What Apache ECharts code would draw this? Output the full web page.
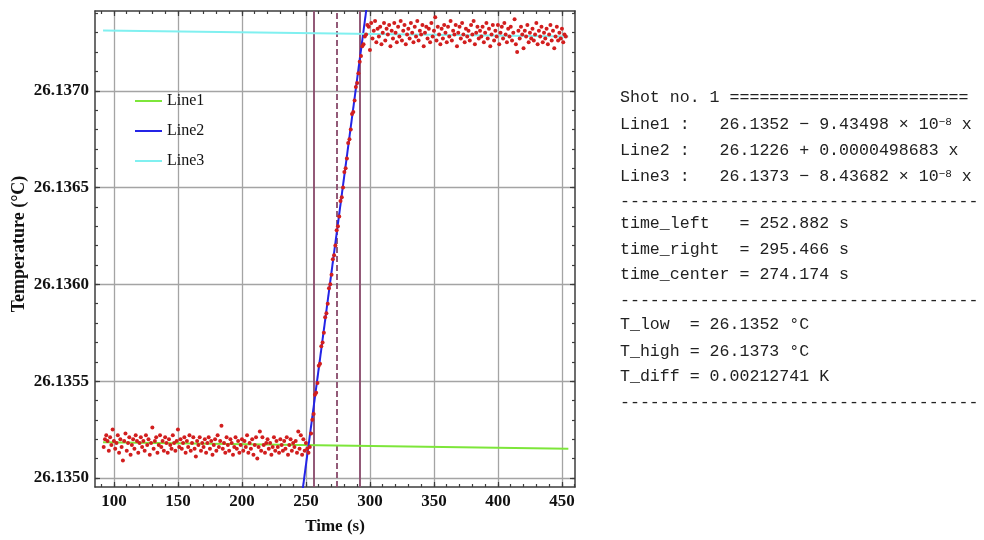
<!DOCTYPE html>
<html>
<head>
<meta charset="utf-8">
<script src="https://cdn.jsdelivr.net/npm/echarts@6/dist/echarts.min.js"></script>
<style>html,body{margin:0;padding:0;background:#fff}#c{width:984px;height:540px}</style>
</head>
<body>
<div id="c"></div>
<script>
// ---- tick positions ----
const xMajor = [100, 150, 200, 250, 300, 350, 400, 450];
const xMinor = [90, 100, 110, 120, 130, 140, 150, 160, 170, 180, 190, 200, 210, 220, 230, 240, 250, 260, 270, 280, 290, 300, 310, 320, 330, 340, 350, 360, 370, 380, 390, 400, 410, 420, 430, 440, 450, 460];
const yMajor = [26.1350, 26.1355, 26.1360, 26.1365, 26.1370];
const yMinor = [26.1350, 26.1351, 26.1352, 26.1353, 26.1354, 26.1355, 26.1356, 26.1357, 26.1358, 26.1359, 26.1360, 26.1361, 26.1362, 26.1363, 26.1364, 26.1365, 26.1366, 26.1367, 26.1368, 26.1369, 26.1370, 26.1371, 26.1372, 26.1373, 26.1374];

// ---- measured data: low plateau ----
const lowTime = [92,93,94,95,96,97,98,99,100,101,102,103,104,105,106,107,108,109,110,111,
112,113,114,115,116,117,118,119,120,121,122,123,124,125,126,127,128,129,130,131,
132,133,134,135,136,137,138,139,140,141,142,143,144,145,146,147,148,149,150,151,
152,153,154,155,156,157,158,159,160,161,162,163,164,165,166,167,168,169,170,171,
172,173,174,175,176,177,178,179,180,181,182,183,184,185,186,187,188,189,190,191,
192,193,194,195,196,197,198,199,200,201,202,203,204,205,206,207,208,209,210,211,
212,213,214,215,216,217,218,219,220,221,222,223,224,225,226,227,228,229,230,231,
232,233,234,235,236,237,238,239,240,241,242,243,244,245,246,247,248,249,250,251,
252,253];
const lowTemp = [
26.13516,26.13520,26.13522,26.13519,26.13514,26.13521,26.13517,26.13525,26.13519,26.13515,
26.13518,26.13522,26.13513,26.13520,26.13516,26.13509,26.13519,26.13523,26.13514,26.13518,
26.13521,26.13512,26.13517,26.13520,26.13515,26.13522,26.13519,26.13513,26.13518,26.13521,
26.13516,26.13519,26.13514,26.13522,26.13517,26.13520,26.13512,26.13518,26.13526,26.13515,
26.13519,26.13521,26.13513,26.13517,26.13522,26.13516,26.13519,26.13514,26.13521,26.13518,
26.13513,26.13520,26.13517,26.13515,26.13522,26.13518,26.13514,26.13519,26.13525,26.13516,
26.13520,26.13515,26.13518,26.13521,26.13513,26.13519,26.13516,26.13522,26.13514,26.13518,
26.13521,26.13515,26.13511,26.13519,26.13517,26.13521,26.13514,26.13518,26.13516,26.13520,
26.13513,26.13518,26.13521,26.13515,26.13519,26.13512,26.13517,26.13520,26.13514,26.13522,
26.13516,26.13519,26.13527,26.13515,26.13518,26.13513,26.13521,26.13517,26.13514,26.13520,
26.13518,26.13512,26.13516,26.13521,26.13515,26.13519,26.13513,26.13517,26.13520,26.13514,
26.13519,26.13516,26.13522,26.13513,26.13518,26.13515,26.13520,26.13512,26.13517,26.13521,
26.13510,26.13516,26.13524,26.13514,26.13521,26.13517,26.13513,26.13518,26.13520,26.13515,
26.13518,26.13512,26.13516,26.13521,26.13514,26.13519,26.13516,26.13513,26.13520,26.13517,
26.13514,26.13519,26.13515,26.13521,26.13512,26.13517,26.13520,26.13514,26.13518,26.13516,
26.13519,26.13513,26.13524,26.13515,26.13522,26.13512,26.13520,26.13514,26.13518,26.13515,
26.13513,26.13516];

// ---- measured data: rising edge ----
const riseTime = [254,255,256,257,258,259,260,261,262,263,264,265,266,267,268,269,270,271,272,273,
274,275,276,277,278,279,280,281,282,283,284,285,286,287,288,289,290,291,292,293,294,295,296];
const riseTemp = [
26.13523,26.13530,26.13533,26.13543,26.13544,26.13549,26.13558,26.13559,26.13568,26.13570,
26.13575,26.13583,26.13585,26.13590,26.13598,26.13600,26.13605,26.13613,26.13615,26.13620,
26.13628,26.13630,26.13635,26.13643,26.13645,26.13650,26.13658,26.13660,26.13665,26.13673,
26.13675,26.13680,26.13688,26.13689,26.13695,26.13702,26.13704,26.13709,26.13715,26.13718,
26.13723,26.13724,26.13728];

// ---- measured data: high plateau ----
const highTime = [297,298,299,300,301,302,303,304,305,306,307,308,309,310,311,312,313,314,315,316,
317,318,319,320,321,322,323,324,325,326,327,328,329,330,331,332,333,334,335,336,
337,338,339,340,341,342,343,344,345,346,347,348,349,350,351,352,353,354,355,356,
357,358,359,360,361,362,363,364,365,366,367,368,369,370,371,372,373,374,375,376,
377,378,379,380,381,382,383,384,385,386,387,388,389,390,391,392,393,394,395,396,
397,398,399,400,401,402,403,404,405,406,407,408,409,410,411,412,413,414,415,416,
417,418,419,420,421,422,423,424,425,426,427,428,429,430,431,432,433,434,435,436,
437,438,439,440,441,442,443,444,445,446,447,448,449,450,451,452,453];
const highTemp = [
26.13729,26.13734,26.13733,26.13721,26.13735,26.13727,26.13731,26.13736,26.13725,26.13732,
26.13728,26.13733,26.13724,26.13730,26.13735,26.13726,26.13732,26.13729,26.13734,26.13723,
26.13731,26.13727,26.13735,26.13730,26.13725,26.13733,26.13728,26.13736,26.13726,26.13731,
26.13734,26.13724,26.13729,26.13732,26.13727,26.13735,26.13730,26.13725,26.13733,26.13728,
26.13736,26.13726,26.13731,26.13729,26.13734,26.13723,26.13730,26.13733,26.13727,26.13732,
26.13725,26.13735,26.13728,26.13731,26.13738,26.13726,26.13733,26.13729,26.13724,26.13732,
26.13727,26.13734,26.13730,26.13725,26.13733,26.13728,26.13736,26.13726,26.13731,26.13729,
26.13734,26.13723,26.13730,26.13733,26.13727,26.13735,26.13729,26.13725,26.13732,26.13728,
26.13731,26.13726,26.13734,26.13729,26.13736,26.13724,26.13730,26.13733,26.13727,26.13731,
26.13728,26.13733,26.13725,26.13730,26.13735,26.13727,26.13732,26.13723,26.13729,26.13734,
26.13726,26.13731,26.13728,26.13734,26.13724,26.13730,26.13733,26.13727,26.13735,26.13729,
26.13725,26.13732,26.13728,26.13733,26.13726,26.13730,26.13737,26.13724,26.13720,26.13731,
26.13727,26.13733,26.13729,26.13722,26.13731,26.13728,26.13734,26.13725,26.13730,26.13727,
26.13732,26.13726,26.13729,26.13735,26.13724,26.13731,26.13728,26.13733,26.13725,26.13730,
26.13727,26.13732,26.13724,26.13729,26.13734,26.13726,26.13731,26.13722,26.13728,26.13733,
26.13726,26.13730,26.13727,26.13732,26.13725,26.13729,26.13728];

// ---- fitted lines (end points, as read) ----
const line1 = [[91.5, 26.135184], [455, 26.135151]];
const line2 = [[245, 26.134818], [300, 26.137560]];
const line3 = [[91.5, 26.137311], [455, 26.137280]];
const lineNames = ['Line1', 'Line2', 'Line3'];

// ---- vertical markers (left edge, centre, right edge) ----
const markerTimes = [255.9, 274.174, 292.4];

// ---- text panel ----
const panelText = [
  'Shot no. 1 ========================',
  'Line1 :   26.1352 \u2212 9.43498 \u00d7 10{s|\u22128} x',
  'Line2 :   26.1226 + 0.0000498683 x',
  'Line3 :   26.1373 \u2212 8.43682 \u00d7 10{s|\u22128} x',
  '------------------------------------',
  'time_left   = 252.882 s',
  'time_right  = 295.466 s',
  'time_center = 274.174 s',
  '------------------------------------',
  'T_low  = 26.1352 \u00b0C',
  'T_high = 26.1373 \u00b0C',
  'T_diff = 0.00212741 K',
  '------------------------------------'
];
const panelY = [98, 125, 151, 177, 202, 224, 250, 275, 301, 325, 352, 377, 403];

// ---- build ----
const xMin = 85.2, xMax = 460.2, yMin = 26.134953, yMax = 26.137412;
const frameColor = '#3c3c3c';
const gridColor = '#a4a4a4';
const serifBold = { fontFamily: 'Liberation Serif', fontWeight: 'bold', fontSize: 17, color: '#111' };

function zip(ts, vs) { return ts.map((t, i) => [t, vs[i]]); }
const points = zip(lowTime, lowTemp).concat(zip(riseTime, riseTemp), zip(highTime, highTemp));

function xAx(pos, ticks, len, main) {
  return {
    type: 'value', position: pos, min: xMin, max: xMax,
    axisLine: { show: !!main, onZero: false, lineStyle: { color: frameColor, width: 1.5 } },
    axisTick: { show: true, inside: true, length: len, customValues: ticks, lineStyle: { color: frameColor, width: 1.2 } },
    axisLabel: main === 'label' ? Object.assign({ show: true, customValues: ticks, margin: 6 }, serifBold) : { show: false },
    splitLine: main === 'label' ? { show: true, lineStyle: { color: gridColor, width: 1.3 } } : { show: false },
    minorTick: { show: false }
  };
}
function yAx(pos, ticks, len, main) {
  return {
    type: 'value', position: pos, min: yMin, max: yMax, scale: true,
    axisLine: { show: !!main, onZero: false, lineStyle: { color: frameColor, width: 1.5 } },
    axisTick: { show: true, inside: true, length: len, customValues: ticks, lineStyle: { color: frameColor, width: 1.2 } },
    axisLabel: main === 'label' ? Object.assign({ show: true, customValues: ticks, margin: 6, formatter: v => Number(v).toFixed(4) }, serifBold) : { show: false },
    splitLine: main === 'label' ? { show: true, lineStyle: { color: gridColor, width: 1.3 } } : { show: false },
    minorTick: { show: false }
  };
}

const xAxes = [xAx('bottom', xMajor, 5, 'label'), xAx('bottom', xMinor, 3, false), xAx('top', xMajor, 5, true), xAx('top', xMinor, 3, false)];
Object.assign(xAxes[0], { name: 'Time (s)', nameLocation: 'middle', nameGap: 31, nameTextStyle: { fontFamily: 'Liberation Serif', fontWeight: 'bold', fontSize: 17, color: '#111' } });
const yAxes = [yAx('left', yMajor, 5, 'label'), yAx('left', yMinor, 3, false), yAx('right', yMajor, 5, true), yAx('right', yMinor, 3, false)];
Object.assign(yAxes[0], { name: 'Temperature (\u00b0C)', nameLocation: 'middle', nameGap: 67, nameRotate: 90, nameTextStyle: { fontFamily: 'Liberation Serif', fontWeight: 'bold', fontSize: 18, color: '#111', padding: [0, 0, 0, 10] } });

const lineColors = ['#7de63a', '#2424e6', '#80f0f0'];
const lines = [line1, line2, line3];

const option = {
  animation: false,
  backgroundColor: '#fff',
  grid: { left: 95, right: 409, top: 11, bottom: 48, containLabel: false },
  xAxis: xAxes,
  yAxis: yAxes,
  legend: {
    data: lineNames, orient: 'vertical', left: 130, top: 88,
    icon: 'rect', itemWidth: 27, itemHeight: 2, itemGap: 14,
    textStyle: { fontFamily: 'Liberation Serif', fontSize: 16, color: '#111', lineHeight: 16 }
  },
  series: [
    {
      type: 'scatter', name: 'data', data: points, symbol: 'circle', symbolSize: 4,
      itemStyle: { color: '#d21e1e', opacity: 1 }, z: 5,
      markLine: {
        silent: true, symbol: 'none', label: { show: false }, z: 2,
        data: markerTimes.map((t, i) => ({ xAxis: t, lineStyle: { color: '#8a4c6c', width: 2, opacity: 0.92, type: i === 1 ? [6, 3] : 'solid' } }))
      }
    }
  ].concat(lines.map((d, i) => ({
    type: 'line', name: lineNames[i], data: d, showSymbol: false, symbol: 'none', clip: true,
    lineStyle: { color: lineColors[i], width: 2 }, itemStyle: { color: lineColors[i] }, z: 4
  }))),
  graphic: panelText.map((s, i) => ({
    type: 'text', x: 620, y: panelY[i],
    style: {
      text: s, fontFamily: 'Liberation Mono', fontSize: 16.6, fill: '#222', verticalAlign: 'middle', align: 'left',
      rich: { s: { fontFamily: 'Liberation Mono', fontSize: 11, verticalAlign: 'top', fill: '#222' } }
    }
  }))
};

const chart = echarts.init(document.getElementById('c'), null, { renderer: 'canvas' });
chart.setOption(option);
</script>
</body>
</html>
